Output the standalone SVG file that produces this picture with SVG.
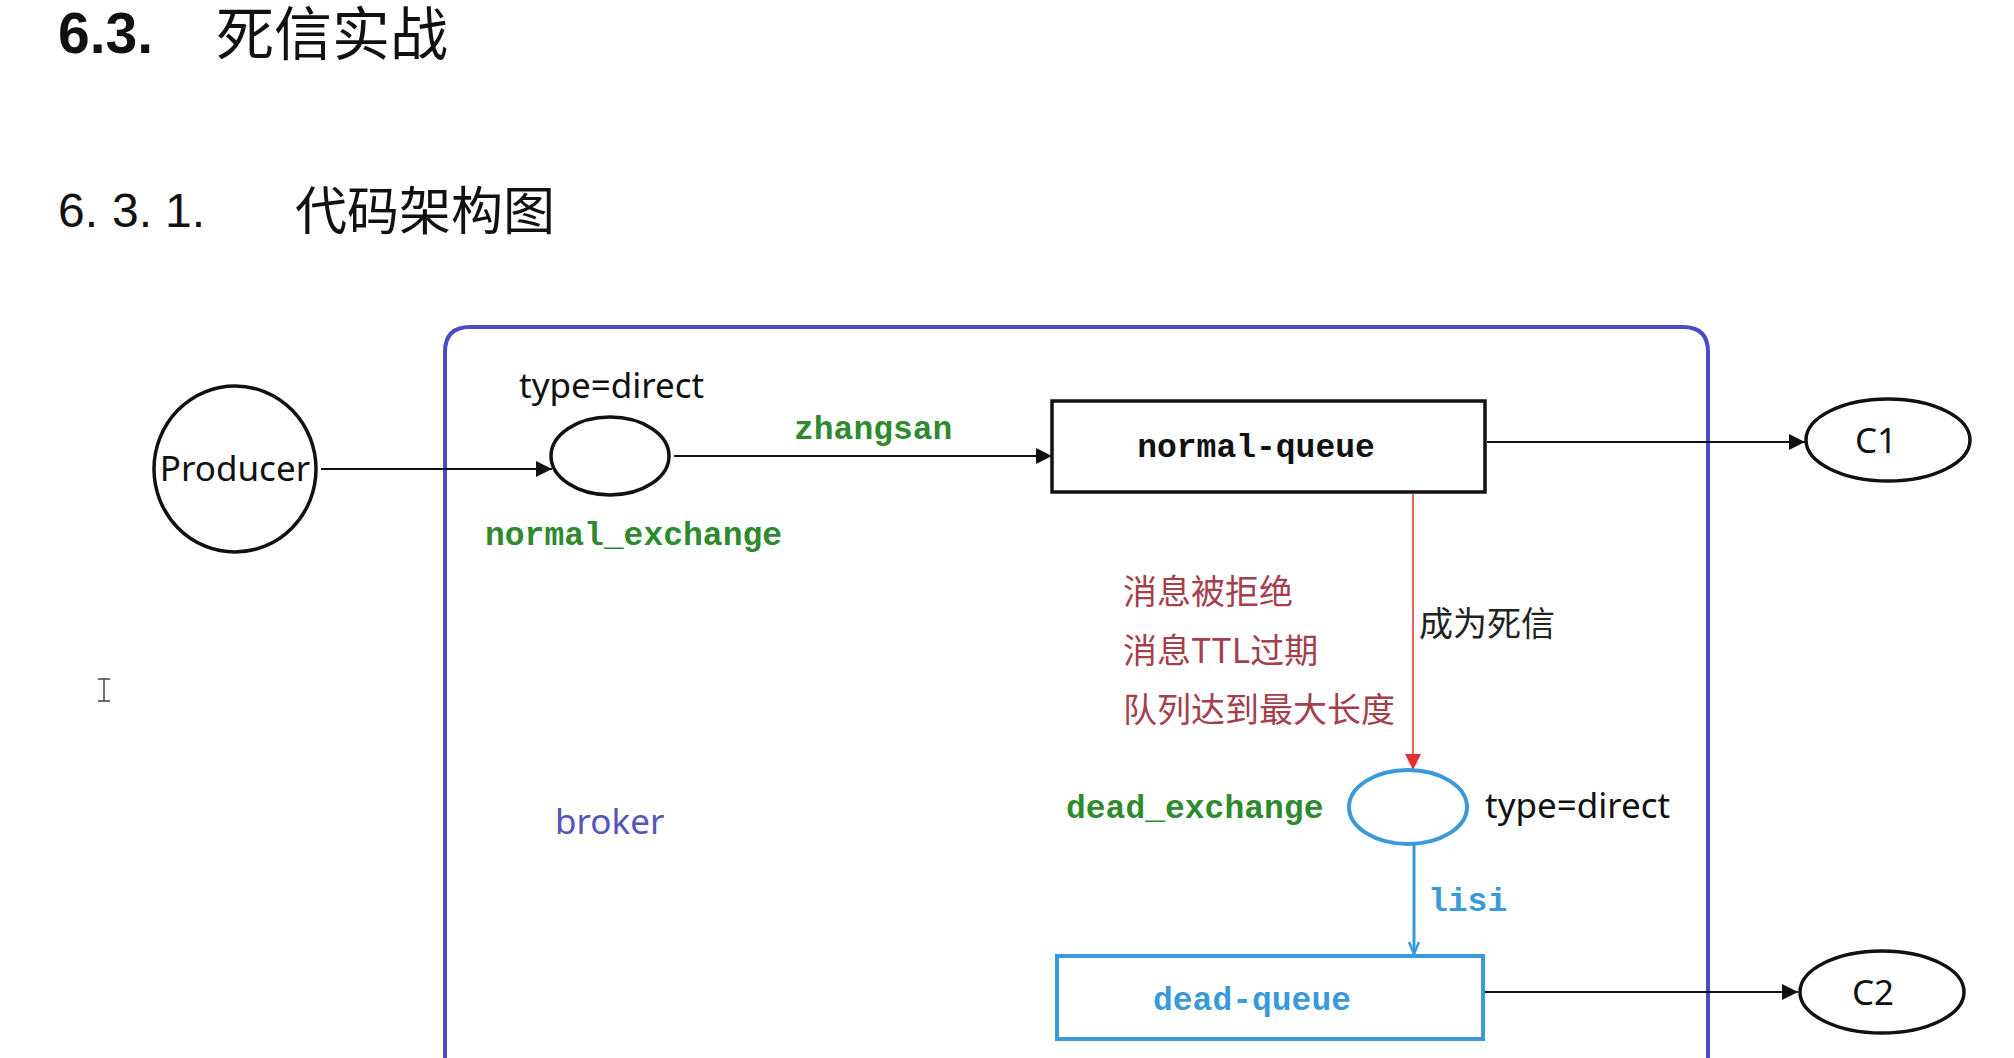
<svg xmlns="http://www.w3.org/2000/svg" width="2014" height="1058" viewBox="0 0 2014 1058">
<defs>
<style>
.sans{font-family:"Noto Sans","Liberation Sans",sans-serif;font-size:35px;fill:#111}
.cjk{font-family:"Noto Sans CJK SC","Noto Sans",sans-serif}
.mono{font-family:"Liberation Mono","Courier New",monospace;font-weight:bold;font-size:33px}
.green{fill:#2f8a2f}
.blue{fill:#3a9ad9}
.red{fill:#a3404c}
.edge{stroke:#111;stroke-width:2;fill:none}
.node{fill:#fff;stroke:#111;stroke-width:3.5}
.bnode{fill:#fff;stroke:#3a9ad9;stroke-width:4}
</style>
<marker id="ah" markerUnits="userSpaceOnUse" markerWidth="20" markerHeight="20" refX="16" refY="8" orient="auto">
<path d="M0,0 L16,8 L0,16 Z" fill="#111"/>
</marker>
<marker id="ahr" markerUnits="userSpaceOnUse" markerWidth="20" markerHeight="20" refX="16" refY="8" orient="auto">
<path d="M0,0 L16,8 L0,16 Z" fill="#e03030"/>
</marker>
<marker id="ahb" markerUnits="userSpaceOnUse" markerWidth="20" markerHeight="20" refX="14" refY="7" orient="auto">
<path d="M2,2 L14,7 L2,12" fill="none" stroke="#3a9ad9" stroke-width="2.5"/>
</marker>
</defs>
<rect width="2014" height="1058" fill="#fff"/>

<g id="titles">
<text x="58" y="53" style="font-family:'Liberation Sans',Arial,sans-serif;font-weight:bold;font-size:57px" fill="#111">6.3.</text>
<text x="216" y="55" class="cjk" style="font-size:58px" fill="#111">死信实战</text>
<text y="227" style="font-family:'Liberation Sans',Arial,sans-serif;font-size:48px" fill="#111"><tspan x="58">6.</tspan><tspan x="112">3.</tspan><tspan x="165">1.</tspan></text>
<text x="295" y="230" class="cjk" style="font-size:52px" fill="#111">代码架构图</text>
</g>

<g id="broker">
<path d="M445,1060 L445,352 Q445,327 470,327 L1683,327 Q1708,327 1708,352 L1708,1060" fill="none" stroke="#4b4bc4" stroke-width="4"/>
<text x="555" y="834" class="sans" style="fill:#5555b8">broker</text>
</g>

<g id="connectors">
<line x1="321" y1="469" x2="552" y2="469" class="edge" marker-end="url(#ah)"/>
<line x1="674" y1="456" x2="1052" y2="456" class="edge" marker-end="url(#ah)"/>
<line x1="1487" y1="442" x2="1805" y2="442" class="edge" marker-end="url(#ah)"/>
<line x1="1413" y1="494" x2="1413" y2="770" stroke="#e03030" stroke-width="1.5" marker-end="url(#ahr)"/>
<line x1="1414" y1="844" x2="1414" y2="954" stroke="#3a9ad9" stroke-width="3" marker-end="url(#ahb)"/>
<line x1="1485" y1="992" x2="1798" y2="992" class="edge" marker-end="url(#ah)"/>
<text x="794" y="439" class="mono green">zhangsan</text>
<text x="1428" y="911" class="mono blue">lisi</text>
<text x="1419" y="636" class="cjk" style="font-size:34px;fill:#222">成为死信</text>
<text class="cjk red" style="font-size:34px"><tspan x="1123" y="604">消息被拒绝</tspan><tspan x="1123" y="663">消息TTL过期</tspan><tspan x="1123" y="722">队列达到最大长度</tspan></text>
</g>

<g id="producer">
<ellipse cx="235" cy="469" rx="81" ry="83" class="node"/>
<text x="235" y="481" class="sans" text-anchor="middle">Producer</text>
</g>

<g id="normal_exchange">
<ellipse cx="610" cy="456" rx="59" ry="39" class="node"/>
<text x="519" y="398" class="sans">type=direct</text>
<text x="485" y="545" class="mono green">normal_exchange</text>
</g>

<g id="normal_queue">
<rect x="1052" y="401" width="433" height="91" class="node" stroke-width="4"/>
<text x="1256" y="457" class="mono" text-anchor="middle" fill="#111">normal-queue</text>
</g>

<g id="c1">
<ellipse cx="1888" cy="440" rx="82" ry="41" class="node"/>
<text x="1876" y="453" class="sans" text-anchor="middle">C1</text>
</g>

<g id="dead_exchange">
<ellipse cx="1408" cy="807" rx="59" ry="37" class="bnode"/>
<text x="1066" y="818" class="mono green">dead_exchange</text>
<text x="1485" y="818" class="sans">type=direct</text>
</g>

<g id="dead_queue">
<rect x="1057" y="956" width="426" height="83" class="bnode"/>
<text x="1252" y="1010" class="mono blue" text-anchor="middle">dead-queue</text>
</g>

<g id="c2">
<ellipse cx="1882" cy="992" rx="82" ry="41" class="node"/>
<text x="1873" y="1005" class="sans" text-anchor="middle">C2</text>
</g>

<g id="cursor">
<path d="M98,679 L110,679 M104,679 L104,701 M98,701 L110,701" stroke="#444" stroke-width="1.5" fill="none"/>
</g>
</svg>
